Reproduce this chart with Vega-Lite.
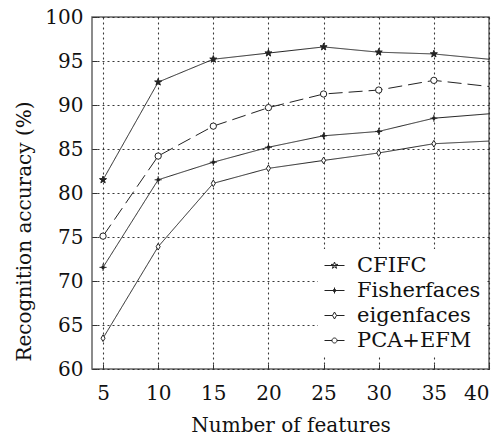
{
  "$schema": "https://vega.github.io/schema/vega-lite/v6.json",
  "width": 397,
  "height": 352,
  "autosize": {"type": "none"},
  "padding": {"left": 92, "top": 17, "right": 14, "bottom": 67},
  "background": "white",
  "config": {
    "font": "DejaVu Serif",
    "view": {"stroke": "#666", "strokeWidth": 1.5},
    "axis": {
      "labelFont": "DejaVu Serif",
      "titleFont": "DejaVu Serif",
      "labelFontSize": 20,
      "titleFontSize": 20,
      "labelColor": "#111",
      "titleColor": "#111",
      "titleFontWeight": "normal",
      "grid": true,
      "gridColor": "#222",
      "gridDash": [2, 3],
      "gridWidth": 1.1,
      "gridOpacity": 0.9,
      "domain": false,
      "ticks": true,
      "tickColor": "#333",
      "tickSize": -5
    },
    "legend": {
      "labelFont": "DejaVu Serif",
      "labelFontSize": 21,
      "labelColor": "#111"
    }
  },
  "data": {
    "values": [
      {"x": 5, "series": "CFIFC", "y": 81.5},
      {"x": 10, "series": "CFIFC", "y": 92.6},
      {"x": 15, "series": "CFIFC", "y": 95.2},
      {"x": 20, "series": "CFIFC", "y": 95.9},
      {"x": 25, "series": "CFIFC", "y": 96.6},
      {"x": 30, "series": "CFIFC", "y": 96.0},
      {"x": 35, "series": "CFIFC", "y": 95.8},
      {"x": 40, "series": "CFIFC", "y": 95.2},
      {"x": 5, "series": "Fisherfaces", "y": 71.55},
      {"x": 10, "series": "Fisherfaces", "y": 81.5},
      {"x": 15, "series": "Fisherfaces", "y": 83.5},
      {"x": 20, "series": "Fisherfaces", "y": 85.2},
      {"x": 25, "series": "Fisherfaces", "y": 86.5},
      {"x": 30, "series": "Fisherfaces", "y": 87.0},
      {"x": 35, "series": "Fisherfaces", "y": 88.5},
      {"x": 40, "series": "Fisherfaces", "y": 89.0},
      {"x": 5, "series": "eigenfaces", "y": 63.5},
      {"x": 10, "series": "eigenfaces", "y": 73.9},
      {"x": 15, "series": "eigenfaces", "y": 81.1},
      {"x": 20, "series": "eigenfaces", "y": 82.8},
      {"x": 25, "series": "eigenfaces", "y": 83.7},
      {"x": 30, "series": "eigenfaces", "y": 84.55},
      {"x": 35, "series": "eigenfaces", "y": 85.6},
      {"x": 40, "series": "eigenfaces", "y": 85.9},
      {"x": 5, "series": "PCA+EFM", "y": 75.1},
      {"x": 10, "series": "PCA+EFM", "y": 84.2},
      {"x": 15, "series": "PCA+EFM", "y": 87.6},
      {"x": 20, "series": "PCA+EFM", "y": 89.7},
      {"x": 25, "series": "PCA+EFM", "y": 91.25},
      {"x": 30, "series": "PCA+EFM", "y": 91.7},
      {"x": 35, "series": "PCA+EFM", "y": 92.8},
      {"x": 40, "series": "PCA+EFM", "y": 92.1}
    ]
  },
  "encoding": {
    "x": {
      "field": "x",
      "type": "quantitative",
      "scale": {"domain": [4, 40], "nice": false, "zero": false},
      "axis": {"values": [5, 10, 15, 20, 25, 30, 35, 40], "title": "Number of features", "labelPadding": 19, "titlePadding": 12}
    },
    "y": {
      "field": "y",
      "type": "quantitative",
      "scale": {"domain": [60, 100], "nice": false, "zero": false},
      "axis": {"values": [60, 65, 70, 75, 80, 85, 90, 95, 100], "title": "Recognition accuracy (%)", "labelPadding": 14, "titlePadding": 10, "titleY": 214}
    }
  },
  "layer": [
    {
      "mark": {"type": "line", "color": "#222", "strokeWidth": 1, "clip": true},
      "encoding": {
        "detail": {"field": "series"},
        "strokeDash": {
          "field": "series",
          "type": "nominal",
          "scale": {"domain": ["CFIFC", "Fisherfaces", "eigenfaces", "PCA+EFM"], "range": [[1, 0], [1, 0], [1, 0], [14, 6]]},
          "legend": null
        }
      }
    },
    {
      "mark": {"type": "point", "stroke": "#222", "strokeWidth": 1, "opacity": 1, "filled": false},
      "transform": [{"filter": "datum.x < 40"}],
      "encoding": {
        "shape": {
          "field": "series",
          "type": "nominal",
          "scale": {
            "domain": ["CFIFC", "Fisherfaces", "eigenfaces", "PCA+EFM"],
            "range": [
              "M0,-1L0.235,-0.324L0.951,-0.309L0.38,0.124L0.588,0.809L0,0.4L-0.588,0.809L-0.38,0.124L-0.951,-0.309L-0.235,-0.324Z",
              "M-1,0H1M0,-1V1M-0.3,-0.3H0.3V0.3H-0.3Z",
              "M0,-1L0.6,0L0,1L-0.6,0Z",
              "circle"
            ]
          },
          "legend": null
        },
        "fill": {
          "field": "series",
          "type": "nominal",
          "scale": {"domain": ["CFIFC", "Fisherfaces", "eigenfaces", "PCA+EFM"], "range": ["#222", "#222", "white", "white"]},
          "legend": null
        },
        "size": {
          "field": "series",
          "type": "nominal",
          "scale": {"domain": ["CFIFC", "Fisherfaces", "eigenfaces", "PCA+EFM"], "range": [55, 40, 70, 60]},
          "legend": null
        }
      }
    },
    {
      "mark": {"type": "point", "opacity": 0, "filled": false, "stroke": "#222"},
      "encoding": {
        "shape": {
          "field": "series",
          "type": "nominal",
          "title": null,
          "scale": {
            "domain": ["CFIFC", "Fisherfaces", "eigenfaces", "PCA+EFM"],
            "range": [
              "M-1,0H1M0,-0.35L0.082,-0.113L0.333,-0.108L0.133,0.043L0.206,0.283L0,0.14L-0.206,0.283L-0.133,0.043L-0.333,-0.108L-0.082,-0.113Z",
              "M-1,0H1M0,-0.3V0.3M-0.1,-0.1H0.1V0.1H-0.1Z",
              "M-1,0H-0.2M0.2,0H1M0,-0.35L0.2,0L0,0.35L-0.2,0Z",
              "M-1,0H-0.25M0.25,0H1M0.25,0A0.25,0.25,0,1,1,-0.25,0A0.25,0.25,0,1,1,0.25,0Z"
            ]
          },
          "legend": {
            "orient": "none",
            "legendX": 226,
            "legendY": 232,
            "fillColor": "white",
            "padding": 6,
            "symbolSize": 400,
            "symbolOpacity": 1,
            "symbolStrokeColor": "#222",
            "symbolStrokeWidth": 1,
            "rowPadding": 3,
            "labelOffset": 12,
            "encode": {
              "symbols": {
                "update": {
                  "fill": {"signal": "datum.value === 'CFIFC' || datum.value === 'Fisherfaces' ? '#222' : 'white'"},
                  "opacity": {"value": 1},
                  "strokeOpacity": {"value": 1},
                  "fillOpacity": {"value": 1}
                }
              }
            }
          }
        }
      }
    }
  ],
  "resolve": {"scale": {"shape": "independent"}}
}
